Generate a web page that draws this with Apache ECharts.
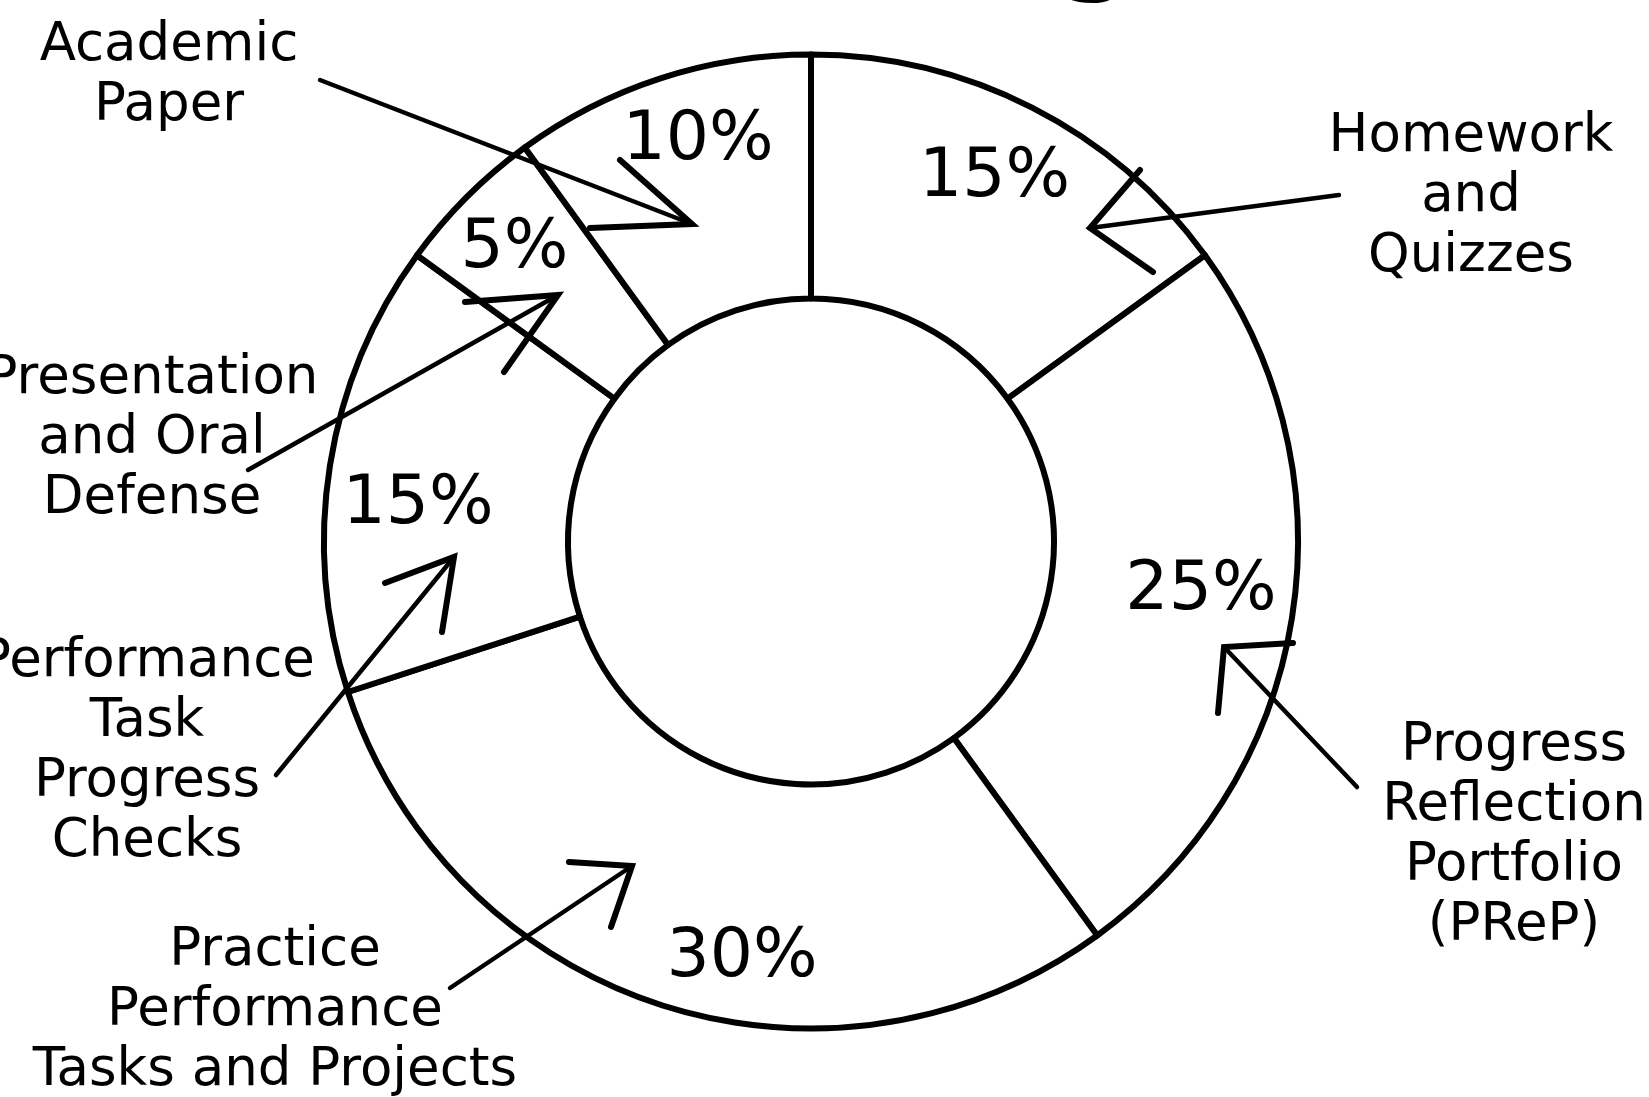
<!DOCTYPE html>
<html>
<head>
<meta charset="utf-8">
<style>
  html, body { margin: 0; padding: 0; background: #ffffff; }
  #chart { width: 1649px; height: 1097px; }
</style>
<script src="https://cdn.jsdelivr.net/npm/echarts@6/dist/echarts.min.js"></script>
</head>
<body>
<div id="chart"></div>
<script>
// ---- data ----
const categories = [
  'Homework and Quizzes',
  'Progress Reflection Portfolio (PReP)',
  'Practice Performance Tasks and Projects',
  'Performance Task Progress Checks',
  'Presentation and Oral Defense',
  'Academic Paper'
];
const weights = [15, 25, 30, 15, 5, 10];
const labelTexts = [
  'Homework\nand\nQuizzes',
  'Progress\nReflection\nPortfolio\n(PReP)',
  'Practice\nPerformance\nTasks and Projects',
  'Performance\nTask\nProgress\nChecks',
  'Presentation\nand Oral\nDefense',
  'Academic\nPaper'
];
const titleText = 'Grading';

// ---- layout (annotation placement, not data) ----
const FONT = 'DejaVu Sans';
const CX = 811, CY = 541.5, R_IN = 243, R_OUT = 487;
const nameLayout = [
  { x: 1471, y: 197 },
  { x: 1514, y: 836 },
  { x: 275,  y: 1011 },
  { x: 147,  y: 752 },
  { x: 152,  y: 439 },
  { x: 169,  y: 76 }
];
const pctOffset = [[-3, 3], [-16, -14], [58, 26], [13, 28], [-6, -2], [14, -9]];
// tail, tip, arm1, arm2
const arrowLayout = [
  { tail: [1339, 195], tip: [1090, 228], a1: [1140, 170], a2: [1153, 272] },
  { tail: [1357, 787], tip: [1224, 647], a1: [1293, 643], a2: [1218, 713] },
  { tail: [450, 988],  tip: [632, 866],  a1: [569, 862],  a2: [611, 927] },
  { tail: [276, 775],  tip: [454, 557],  a1: [385, 583],  a2: [442, 632] },
  { tail: [248, 470],  tip: [558, 295],  a1: [465, 302],  a2: [504, 372] },
  { tail: [320, 80],   tip: [692, 224],  a1: [620, 160],  a2: [590, 228] }
];

const pieData = categories.map((c, i) => ({ name: c, value: weights[i] }));
const pctData = categories.map((c, i) => ({
  name: c, value: weights[i], label: { offset: pctOffset[i] }
}));

const graphics = [];
// partially visible title at top edge
graphics.push({
  type: 'text', silent: true, z: 10,
  style: {
    text: titleText, x: 1135, y: 0,
    align: 'right', verticalAlign: 'bottom',
    font: '130px "Noto Sans"', fill: '#000'
  }
});
labelTexts.forEach((t, i) => {
  graphics.push({
    type: 'text', silent: true, z: 10,
    style: {
      text: t, x: nameLayout[i].x, y: nameLayout[i].y,
      align: 'center', verticalAlign: 'middle',
      font: '53px "' + FONT + '"', lineHeight: 60, fill: '#000'
    }
  });
});
arrowLayout.forEach(a => {
  graphics.push({
    type: 'polyline', silent: true, z: 11,
    shape: { points: [a.tail, a.tip] },
    style: { stroke: '#000', lineWidth: 4.5, lineCap: 'round', fill: null }
  });
  graphics.push({
    type: 'polyline', silent: true, z: 11,
    shape: { points: [a.a1, a.tip, a.a2] },
    style: { stroke: '#000', lineWidth: 6, lineCap: 'round', lineJoin: 'miter', fill: null }
  });
});

const chart = echarts.init(document.getElementById('chart'), null, { renderer: 'canvas' });
chart.setOption({
  backgroundColor: '#ffffff',
  animation: false,
  series: [
    {
      type: 'pie',
      silent: true,
      center: [CX, CY],
      radius: [R_IN, R_OUT],
      startAngle: 90,
      clockwise: true,
      avoidLabelOverlap: false,
      itemStyle: { color: '#ffffff', borderColor: '#000000', borderWidth: 6 },
      label: { show: false },
      labelLine: { show: false },
      emphasis: { disabled: true },
      data: pieData
    },
    {
      type: 'pie',
      silent: true,
      center: [CX, CY],
      radius: [329, R_OUT],
      startAngle: 90,
      clockwise: true,
      avoidLabelOverlap: false,
      z: 5,
      itemStyle: { color: 'rgba(0,0,0,0)', borderWidth: 0 },
      label: {
        show: true, position: 'inside', formatter: '{c}%',
        fontFamily: FONT, fontSize: 68, color: '#000'
      },
      labelLine: { show: false },
      emphasis: { disabled: true },
      data: pctData
    }
  ],
  graphic: graphics
});
</script>
</body>
</html>
